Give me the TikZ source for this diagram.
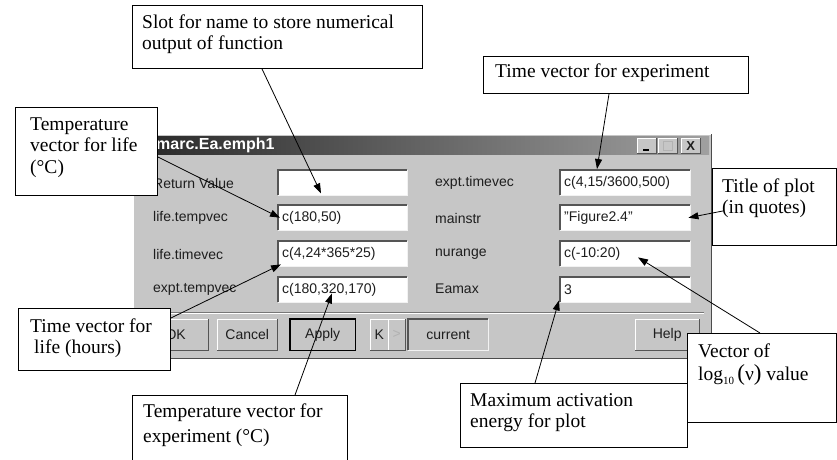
\documentclass[tikz,border=0pt]{standalone}
\usepackage{fontspec}
\setmainfont{Liberation Serif}
\setsansfont{Liberation Sans}
\usetikzlibrary{arrows.meta,calc}
\definecolor{wingray}{RGB}{198,198,198}
\definecolor{darkedge}{RGB}{85,85,85}
\definecolor{titledark}{RGB}{40,40,40}
\definecolor{titlelight}{RGB}{160,160,160}
\definecolor{uitext}{RGB}{30,30,30}
\newcommand\sunkenedge[1]{%
  \draw[line width=1.6pt,darkedge] (#1.south west) |- (#1.north east);
  \draw[line width=1pt,white!90!gray] (#1.north east) |- (#1.south west);}
\newcommand\raisededge[1]{%
  \draw[line width=1pt,white] (#1.south west) |- (#1.north east);
  \draw[line width=1.3pt,darkedge] (#1.north east) |- (#1.south west);}
\begin{document}
\begin{tikzpicture}[x=1pt,y=-1pt,
  cbox/.style={draw=black,fill=white,line width=0.9pt,inner sep=0pt,anchor=north west},
  ctext/.style={inner sep=0pt,anchor=north west,align=left,font=\fontsize{19.5}{21.5}\selectfont},
  arr/.style={line width=0.8pt,-{Triangle[length=10pt,width=7pt]}},
  ui/.style={font=\sffamily\fontsize{14}{16}\selectfont,text=uitext,inner sep=0pt,anchor=west},
  field/.style={fill=white,anchor=north west,inner xsep=4pt,inner ysep=0pt,align=left,
    font=\sffamily\fontsize{14}{16}\selectfont,text=uitext,minimum height=25pt},
  btn/.style={fill=wingray,anchor=north west,inner sep=0pt,minimum height=31pt,
    font=\sffamily\fontsize{14}{16}\selectfont,text=uitext},
]
\useasboundingbox (0,0) rectangle (837,459);
\clip (0,0) rectangle (837,459);

% ---------- dialog window ----------
\node[fill=wingray,anchor=north west,minimum width=578pt,minimum height=224pt,inner sep=0pt] (win) at (133,134) {};
\draw[line width=1pt,white] (win.south west) |- (win.north east);
\draw[line width=1.6pt,black!70] (win.north east) |- (win.south west);
\shade[left color=titledark,right color=titlelight] (135,136) rectangle (709,154);
\node[anchor=west,text=white,font=\sffamily\bfseries\fontsize{16}{18}\selectfont,inner sep=0pt] (title) at (156,145) {marc.Ea.emph1};

% title buttons
\node[btn,minimum width=19pt,minimum height=15pt] (bmin) at (637,138) {};
\node[btn,minimum width=19pt,minimum height=15pt] (bmax) at (658,138) {};
\node[btn,minimum width=19pt,minimum height=15pt,font=\sffamily\bfseries\fontsize{13}{13}\selectfont] (bclose) at (681,138) {X};
\raisededge{bmin}\raisededge{bmax}\raisededge{bclose}
\draw[line width=2pt] ($(bmin.south west)+(6,-3.5)$) -- ($(bmin.south east)+(-7,-3.5)$);
\draw[line width=1pt,gray!60] ($(bmax.south west)+(5,-3)$) rectangle ($(bmax.north east)+(-5,3)$);

% labels
\node[ui] (l1) at (153,183) {Return Value};
\node[ui] (l2) at (153,218) {life.tempvec};
\node[ui] (l3) at (153,254) {life.timevec};
\node[ui] (l4) at (153,289) {expt.tempvec};
\node[ui] (r1) at (435,183) {expt.timevec};
\node[ui] (r2) at (435,218) {mainstr};
\node[ui] (r3) at (435,254) {nurange};
\node[ui] (r4) at (435,289) {Eamax};

% fields
\node[field,text width=121pt] (f1) at (278,170) {};
\node[field,text width=121pt] (f2) at (278,205) {c(180,50)};
\node[field,text width=121pt] (f3) at (278,241) {c(4,24*365*25)};
\node[field,text width=121pt] (f4) at (278,277) {c(180,320,170)};
\node[field,text width=122pt] (g1) at (560,170) {c(4,15/3600,500)};
\node[field,text width=122pt] (g2) at (560,205) {"Figure2.4"};
\node[field,text width=122pt] (g3) at (560,241) {c(-10:20)};
\node[field,text width=122pt] (g4) at (560,277) {3};
\sunkenedge{f1}\sunkenedge{f2}\sunkenedge{f3}\sunkenedge{f4}
\sunkenedge{g1}\sunkenedge{g2}\sunkenedge{g3}\sunkenedge{g4}

% separator
\draw[line width=1pt,darkedge!80] (140,312) -- (704,312);
\draw[line width=1pt,white] (140,313.5) -- (704,313.5);

% buttons
\node[btn,minimum width=65pt] (ok) at (143,319) {OK};
\node[btn,minimum width=60pt] (cancel) at (217,319) {Cancel};
\node[btn,minimum width=65pt] (apply) at (290,319) {Apply};
\node[btn,minimum width=18pt] (first) at (370,319) {K};
\node[btn,minimum width=17pt,text=gray!60] (next) at (388,319) {>};
\node[btn,minimum width=80pt] (current) at (408,319) {current};
\node[btn,minimum width=64pt] (help) at (635,319) {Help};
\raisededge{ok}\raisededge{cancel}\raisededge{apply}\raisededge{first}\raisededge{next}\raisededge{help}
\sunkenedge{current}
\draw[line width=1.3pt,black] (apply.south west) rectangle (apply.north east);

% ---------- callout boxes ----------
\node[cbox,minimum width=290pt,minimum height=63pt] (b1) at (132,5) {};
\node[ctext] (t1) at (142,13) {\strut Slot for name to store numerical\\output of function};
\node[cbox,minimum width=142pt,minimum height=88pt] (b2) at (15,107) {};
\node[ctext] (t2) at (30,115) {\strut Temperature\\vector for life\\(°C)};
\node[cbox,minimum width=265pt,minimum height=37pt] (b3) at (483,56) {};
\node[ctext] (t3) at (495,62) {\strut Time vector for experiment};
\node[cbox,minimum width=124pt,minimum height=77pt] (b4) at (712,168) {};
\node[ctext] (t4) at (722,177) {\strut Title of plot\\(in quotes)};
\node[cbox,minimum width=152pt,minimum height=62pt] (b5) at (18,308) {};
\node[ctext] (t5) at (30,317) {\strut Time vector for\\\hspace{4pt}life (hours)};
\node[cbox,minimum width=215pt,minimum height=75pt] (b6) at (132,395) {};
\node[ctext] (t6) at (143,402) {\strut Temperature vector for\\[4pt]experiment (°C)};
\node[cbox,minimum width=227pt,minimum height=64pt] (b7) at (460,383) {};
\node[ctext] (t7) at (470,391) {\strut Maximum activation\\energy for plot};
\node[cbox,minimum width=149pt,minimum height=89pt] (b8) at (687,333) {};
\node[ctext] (t8) at (698,342) {\strut Vector of\\log\raisebox{-0.45ex}{\fontsize{11}{11}\selectfont 10}\,{\fontsize{23}{23}\selectfont(}ν{\fontsize{23}{23}\selectfont)} value};

% ---------- arrows ----------
\draw[arr] ($(b1.south west)+(130,0)$) -- ($(f1.south west)+(43,-2)$);
\draw[arr] ($(b2.north east)+(0,50)$) -- ($(f2.west)+(2,0)$);
\draw[arr] ($(b3.south west)+(126,0)$) -- ($(g1.north west)+(37,-1)$);
\draw[arr] ($(b4.west)+(11,4)$) -- ($(g2.east)+(-2,0)$);
\draw[arr] ($(b5.north east)+(0,10)$) -- ($(f3.south west)+(3,-2)$);
\draw[arr] ($(b6.north west)+(163,0)$) -- ($(f4.south west)+(54,-9)$);
\draw[arr] ($(b7.north west)+(75,0)$) -- ($(g4.south west)+(-1,-2)$);
\draw[arr] ($(b8.north west)+(73,0)$) -- ($(g3.south west)+(78,-9)$);
\end{tikzpicture}
\end{document}
